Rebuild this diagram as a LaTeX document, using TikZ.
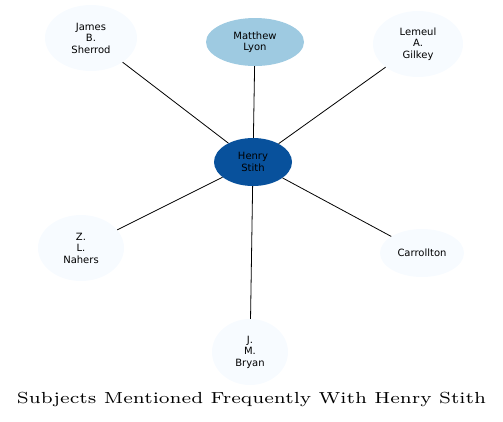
\documentclass[tikz,border=0pt]{standalone}
\usepackage{fontspec}
\usetikzlibrary{shapes.geometric}
\newfontfamily\labelfont{DejaVu Sans}
\definecolor{pale}{RGB}{247,251,255}
\definecolor{midblue}{RGB}{158,202,225}
\definecolor{deepblue}{RGB}{8,81,156}
\begin{document}
\begin{tikzpicture}[x=1bp, y=-1bp,
  every node/.style={align=center, font=\labelfont\fontsize{10bp}{11.5bp}\selectfont},
  subj/.style={ellipse, fill=pale, inner sep=0pt},
  link/.style={line width=0.8bp}]
\useasboundingbox (0,0) rectangle (503,421);
\node[subj, fill=deepblue, minimum width=78bp, minimum height=48bp] at (253,162) (stith) {Henry\\Stith};
\node[subj, fill=midblue, minimum width=98bp, minimum height=48bp] at (255,42) (lyon) {Matthew\\Lyon};
\node[subj, minimum width=92bp, minimum height=66bp] at (91,38) (sherrod) {James\\B.\\Sherrod};
\node[subj, minimum width=90bp, minimum height=66bp] at (418,44) (gilkey) {Lemeul\\A.\\Gilkey};
\node[subj, minimum width=86bp, minimum height=66bp] at (81,248) (nahers) {Z.\\L.\\Nahers};
\node[subj, minimum width=84bp, minimum height=48bp] at (422,253) (carrollton) {Carrollton};
\node[subj, minimum width=76bp, minimum height=66bp] at (250,352) (bryan) {J.\\M.\\Bryan};
\node[font=\rmfamily\fontsize{7bp}{8bp}\selectfont, inner sep=0pt, anchor=base] at (251.5,403) (title)
  {\scalebox{2.71}[2.29]{Subjects Mentioned Frequently With Henry Stith}};

\draw[link] (stith) -- (lyon);
\draw[link] (stith) -- (sherrod);
\draw[link] (stith) -- (gilkey);
\draw[link] (stith) -- (nahers);
\draw[link] (stith) -- (carrollton);
\draw[link] (stith) -- (bryan);
\end{tikzpicture}
\end{document}
